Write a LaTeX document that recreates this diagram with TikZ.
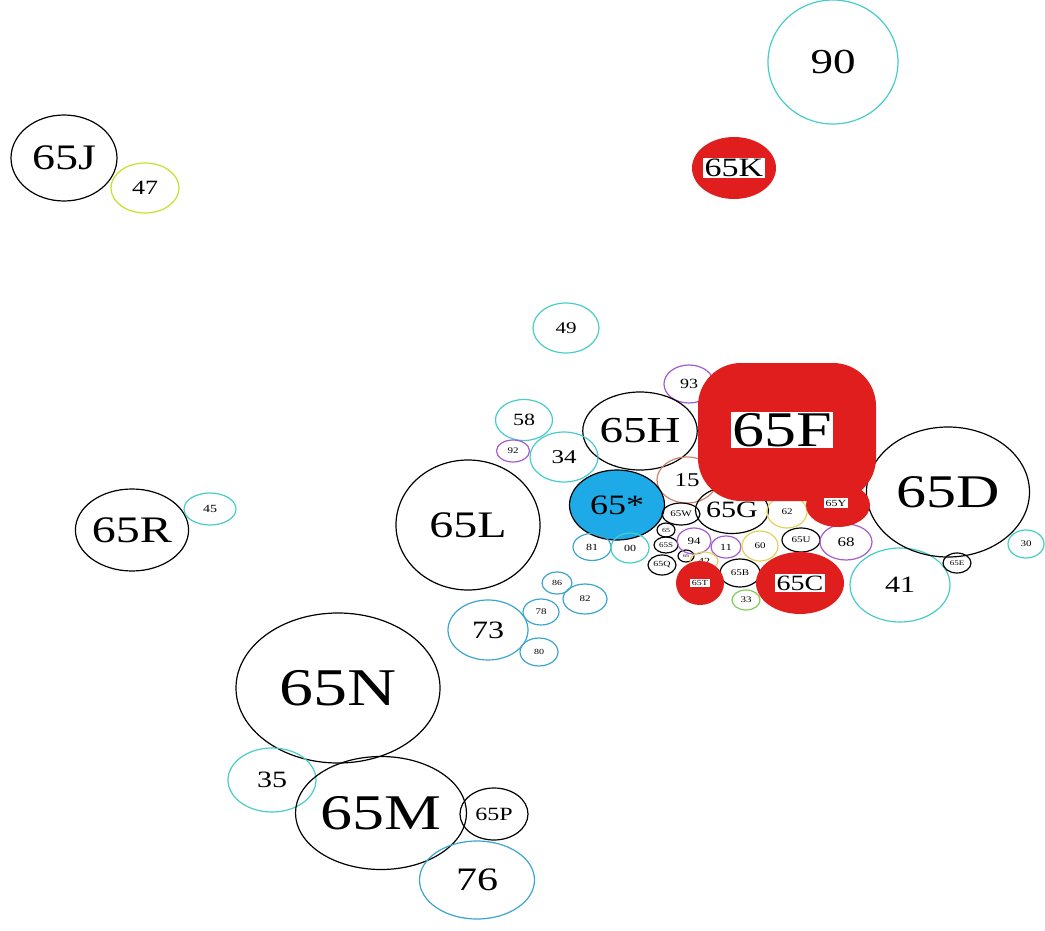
\documentclass[tikz,border=0pt]{standalone}
\usepackage{fontspec}
\usepackage{graphicx}
\setmainfont{Liberation Serif}
\usetikzlibrary{shapes.geometric,positioning}
\definecolor{ringcyan}{RGB}{70,205,200}
\definecolor{ringblue}{RGB}{60,165,205}
\definecolor{ringpurple}{RGB}{165,90,205}
\definecolor{ringyellow}{RGB}{225,210,90}
\definecolor{ringlime}{RGB}{200,225,40}
\definecolor{ringsalmon}{RGB}{205,130,110}
\definecolor{ringgreen}{RGB}{130,205,90}
\definecolor{hotred}{RGB}{225,30,30}
\definecolor{starblue}{RGB}{30,170,230}
% squeezed label text
\newcommand{\lbl}[2]{{\fontsize{#1}{#1}\selectfont\scalebox{1}[0.78]{#2}}}
\tikzset{
  bub/.style={draw, ellipse, inner sep=0pt, line width=1.2pt},
  hot/.style={ellipse, fill=hotred, draw=hotred, line width=2pt, inner sep=0pt},
  tag/.style={fill=white, inner sep=1.5pt}
}

\begin{document}
\begin{tikzpicture}[x=1pt, y=-1pt]
				\useasboundingbox (0,0) rectangle (1045,931);
				
				% top area
				\node[bub, draw=ringcyan, minimum width=130, minimum height=124] (n90) at (833,62) {\lbl{45}{90}};
				\node[bub, minimum width=106, minimum height=86] (n65J) at (64,158) {\lbl{46}{65J}};
				\node[bub, draw=ringlime, minimum width=68, minimum height=50] (n47) at (145,188) {\lbl{26}{47}};
				\node[hot, minimum width=82, minimum height=60] (n65K) at (734,168) {};
				\node[tag] (t65K) at (n65K) {\lbl{34}{65K}};
				\node[bub, draw=ringcyan, minimum width=66, minimum height=50] (n49) at (566,328) {\lbl{21}{49}};
				
				% left side
				\node[bub, minimum width=110, minimum height=82] (n65R) at (132,530) {\lbl{48}{65R}};
				\node[bub, draw=ringcyan, minimum width=52, minimum height=32] (n45) at (210,509) {\lbl{14}{45}};
				
				% middle cluster
				\node[bub, draw=ringpurple, minimum width=50, minimum height=38] (n93) at (689,384) {\lbl{18}{93}};
				\node[bub, minimum width=100, minimum height=78] (n65H) at (640,431) {\lbl{47}{65H}};
				\node[bub, draw=ringcyan, minimum width=57, minimum height=41] (n58) at (524,420) {\lbl{22}{58}};
				\node[bub, draw=ringpurple, minimum width=33, minimum height=22] (n92) at (513,451) {\lbl{11}{92}};
				\node[bub, draw=ringcyan, minimum width=68, minimum height=50] (n34) at (564,457) {\lbl{25}{34}};
				\node[bub, draw=ringsalmon, minimum width=60, minimum height=46] (n15) at (687,480) {\lbl{25}{15}};
				\node[bub, minimum width=144, minimum height=130] (n65L) at (468,525) {\lbl{48}{65L}};
				\node[bub, fill=starblue, minimum width=95, minimum height=70] (nstar) at (617,505) {\lbl{36}{65*}};
				\node[bub, draw=ringblue, minimum width=38, minimum height=27] (n81) at (592,547) {\lbl{12}{81}};
				\node[bub, draw=ringcyan, minimum width=38, minimum height=30] (n00) at (630,548) {\lbl{12}{00}};
				\node[bub, minimum width=38, minimum height=22] (n65W) at (681,514) {\lbl{11}{65W}};
				\node[bub, minimum width=65, minimum height=47] (n65G) at (732,510) {\lbl{30}{65G}};
				\node[bub, minimum width=18, minimum height=14] (n65x) at (666,530) {\lbl{8}{65}};
				\node[bub, minimum width=24, minimum height=16] (n65S) at (666,545) {\lbl{9}{65S}};
				\node[bub, minimum width=16, minimum height=12] (n65y) at (686,556) {\lbl{6}{65}};
				\node[bub, minimum width=28, minimum height=20] (n65Q) at (662,565) {\lbl{10}{65Q}};
				\node[bub, draw=ringpurple, minimum width=34, minimum height=26] (n94) at (694,541) {\lbl{13}{94}};
				\node[bub, draw=ringpurple, minimum width=30, minimum height=22] (n11) at (726,547) {\lbl{12}{11}};
				\node[bub, draw=ringyellow, minimum width=36, minimum height=30] (n60) at (760,546) {\lbl{11}{60}};
				\node[bub, draw=ringyellow, minimum width=28, minimum height=18] (n42) at (704,561) {\lbl{12}{42}};
				\node[bub, minimum width=40, minimum height=28] (n65B) at (740,573) {\lbl{11}{65B}};
				\node[bub, draw=ringgreen, minimum width=28, minimum height=20] (n33) at (746,600) {\lbl{11}{33}};
				\node[bub, draw=ringyellow, minimum width=40, minimum height=32] (n62) at (787,512) {\lbl{11}{62}};
				\node[bub, minimum width=38, minimum height=24] (n65U) at (801,540) {\lbl{11}{65U}};
				\node[bub, draw=ringpurple, minimum width=52, minimum height=36] (n68) at (846,542) {\lbl{17}{68}};
				\node[bub, draw=ringcyan, minimum width=100, minimum height=74] (n41) at (900,585) {\lbl{30}{41}};
				\node[bub, minimum width=163, minimum height=130] (n65D) at (948,492) {\lbl{60}{65D}};
				\node[bub, minimum width=28, minimum height=20] (n65E) at (957,563) {\lbl{9}{65E}};
				\node[bub, draw=ringcyan, minimum width=36, minimum height=28] (n30) at (1026,544) {\lbl{11}{30}};
				
				% red spots
				\node[rectangle, rounded corners=42pt, fill=hotred, draw=hotred, line width=2pt, minimum width=176, minimum height=136] (n65F) at (787,432) {};
				\node[hot, minimum width=62, minimum height=42] (n65Y) at (838,505) {};
				\node[tag] (t65F) at (782,430) {\lbl{64}{65F}};
				\node[tag] (t65Y) at (836,503) {\lbl{12}{65Y}};
				\node[hot, minimum width=46, minimum height=42] (n65T) at (700,583) {};
				\node[tag] (t65T) at (n65T) {\lbl{10}{65T}};
				\node[hot, minimum width=86, minimum height=60] (n65C) at (800,583) {};
				\node[tag] (t65C) at (n65C) {\lbl{28}{65C}};
				
				% lower cluster
				\node[bub, draw=ringblue, minimum width=30, minimum height=22] (n86) at (557,583) {\lbl{10}{86}};
				\node[bub, draw=ringblue, minimum width=44, minimum height=30] (n82) at (585,599) {\lbl{11}{82}};
				\node[bub, draw=ringblue, minimum width=36, minimum height=26] (n78) at (541,612) {\lbl{11}{78}};
				\node[bub, draw=ringblue, minimum width=80, minimum height=60] (n73) at (488,630) {\lbl{32}{73}};
				\node[bub, draw=ringblue, minimum width=38, minimum height=28] (n80) at (539,652) {\lbl{10}{80}};
				\node[bub, minimum width=204, minimum height=150] (n65N) at (338,688) {\lbl{68}{65N}};
				\node[bub, draw=ringcyan, minimum width=88, minimum height=64] (n35) at (272,780) {\lbl{30}{35}};
				\node[bub, minimum width=153, minimum height=113] (n65M) at (381,813) {\lbl{64}{65M}};
				\node[bub, minimum width=68, minimum height=52] (n65P) at (494,814) {\lbl{24}{65P}};
				\node[bub, draw=ringblue, minimum width=115, minimum height=78] (n76) at (477,880) {\lbl{42}{76}};
			\end{tikzpicture}
\end{document}
